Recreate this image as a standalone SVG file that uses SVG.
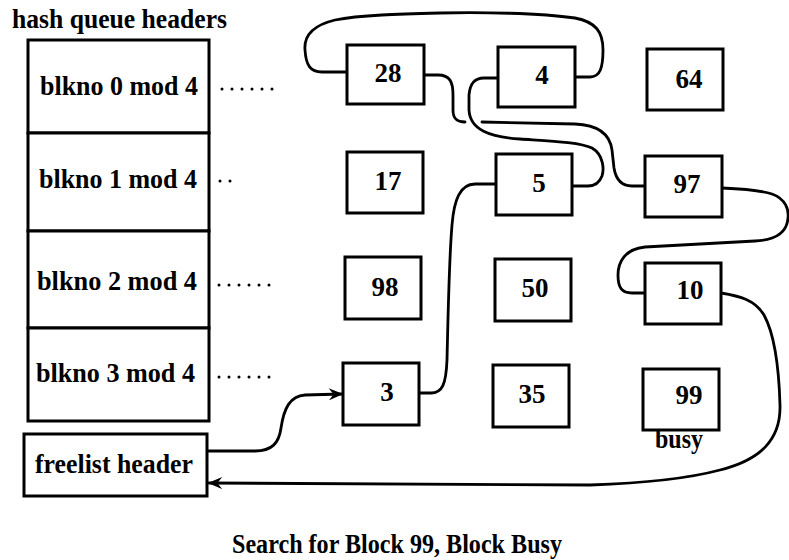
<svg xmlns="http://www.w3.org/2000/svg" width="789" height="560" viewBox="0 0 789 560">
<defs>
<style>
.box{fill:#fff;stroke:#000;stroke-width:3}
.t{font-family:"Liberation Serif","Times New Roman",serif;font-weight:bold;font-size:27px;fill:#000}
.n{text-anchor:middle;font-size:27px}
.conn{fill:none;stroke:#000;stroke-width:2.8;stroke-linecap:round;stroke-linejoin:round}
.dots{stroke:#000;stroke-width:3;stroke-linecap:round;stroke-dasharray:0 10}
</style>
<marker id="arr" viewBox="0 0 12 10" refX="11" refY="5" markerWidth="15" markerHeight="12" markerUnits="userSpaceOnUse" orient="auto">
<path d="M0,0 L12,5 L0,10 L4,5 Z" fill="#000"/>
</marker>
</defs>
<rect width="789" height="560" fill="#fff"/>
<text class="t" x="12" y="28" textLength="215" lengthAdjust="spacingAndGlyphs">hash queue headers</text>

<g id="connectors">
<path class="conn" d="M575 77 L590 77 C600 77 603 68 603 50 C603 32 596 22 575 18 C540 13 480 12 440 13 C400 14 360 15 335 20 C310 26 304 38 305 50 C306 65 310 72 322 72 L347 72"/>
<path class="conn" d="M425 75 L438 75 C450 75 453 82 453 95 L453 110 C453 119 457 122 465 122"/>
<path class="conn" d="M482 122 L575 124 C600 125 610 135 612 150 L614 168 C616 180 622 186 632 186 L645 186"/>
<path class="conn" d="M498 78 L484 78 C474 78 470 84 469 95 L469 110 C470 130 490 137 520 139 C550 141 580 142 592 148 C604 155 604 170 602 176 C599 184 594 186 588 186 L573 186"/>
<path class="conn" d="M722 188 C745 189 760 190 772 194 C786 199 789 210 788 218 C787 233 776 240 755 241 C720 243 680 245 645 247 C625 249 618 262 618 275 C618 288 622 293 632 293 L645 293"/>
<path class="conn" d="M721 293 C740 296 755 300 764 315 C775 335 779 370 780 405 C781 440 760 460 720 470 C690 478 650 483 590 485 L209 483" marker-end="url(#arr)"/>
<path class="conn" d="M207 451 L255 451 C272 451 279 443 281 428 C284 408 290 396 305 395 L342 394" marker-end="url(#arr)"/>
<path class="conn" d="M419 393 L431 393 C442 393 446 385 447 360 C448 320 449 260 452 225 C454 200 460 184 475 184 L496 184"/>
<line class="dots" x1="222" y1="89" x2="274" y2="89"/>
<line class="dots" x1="220" y1="181" x2="231" y2="181"/>
<line class="dots" x1="219" y1="285" x2="271" y2="285"/>
<line class="dots" x1="219" y1="377" x2="271" y2="377"/>
</g>

<g id="hq0"><rect class="box" x="28" y="40" width="181" height="93"/><text class="t" x="40" y="95" textLength="158" lengthAdjust="spacingAndGlyphs">blkno 0 mod 4</text></g>
<g id="hq1"><rect class="box" x="28" y="133" width="181" height="98"/><text class="t" x="39" y="188" textLength="158" lengthAdjust="spacingAndGlyphs">blkno 1 mod 4</text></g>
<g id="hq2"><rect class="box" x="28" y="231" width="181" height="97"/><text class="t" x="37" y="290" textLength="160" lengthAdjust="spacingAndGlyphs">blkno 2 mod 4</text></g>
<g id="hq3"><rect class="box" x="28" y="328" width="181" height="93"/><text class="t" x="36" y="382" textLength="159" lengthAdjust="spacingAndGlyphs">blkno 3 mod 4</text></g>
<g id="freelist"><rect class="box" x="24" y="434" width="183" height="62"/><text class="t" x="35" y="473" textLength="158" lengthAdjust="spacingAndGlyphs">freelist header</text></g>

<g id="b28"><rect class="box" x="347" y="45" width="77" height="59"/><text class="t n" x="388" y="82">28</text></g>
<g id="b4"><rect class="box" x="498" y="47" width="77" height="60"/><text class="t n" x="542" y="84">4</text></g>
<g id="b64"><rect class="box" x="647" y="49" width="76" height="61"/><text class="t n" x="689" y="88">64</text></g>
<g id="b17"><rect class="box" x="347" y="152" width="76" height="61"/><text class="t n" x="388" y="190">17</text></g>
<g id="b5"><rect class="box" x="496" y="154" width="76" height="61"/><text class="t n" x="539" y="192">5</text></g>
<g id="b97"><rect class="box" x="645" y="156" width="77" height="61"/><text class="t n" x="687" y="193">97</text></g>
<g id="b98"><rect class="box" x="345" y="257" width="76" height="62"/><text class="t n" x="385" y="296">98</text></g>
<g id="b50"><rect class="box" x="495" y="259" width="76" height="62"/><text class="t n" x="535" y="297">50</text></g>
<g id="b10"><rect class="box" x="645" y="263" width="76" height="61"/><text class="t n" x="690" y="299">10</text></g>
<g id="b3"><rect class="box" x="343" y="363" width="76" height="62"/><text class="t n" x="387" y="401">3</text></g>
<g id="b35"><rect class="box" x="493" y="365" width="76" height="62"/><text class="t n" x="532" y="403">35</text></g>
<g id="b99"><rect class="box" x="643" y="369" width="76" height="61"/><text class="t n" x="689" y="404">99</text><text class="t" x="655" y="448" textLength="48" lengthAdjust="spacingAndGlyphs">busy</text></g>

<text class="t" x="232" y="553" textLength="330" lengthAdjust="spacingAndGlyphs">Search for Block 99, Block Busy</text>
</svg>
